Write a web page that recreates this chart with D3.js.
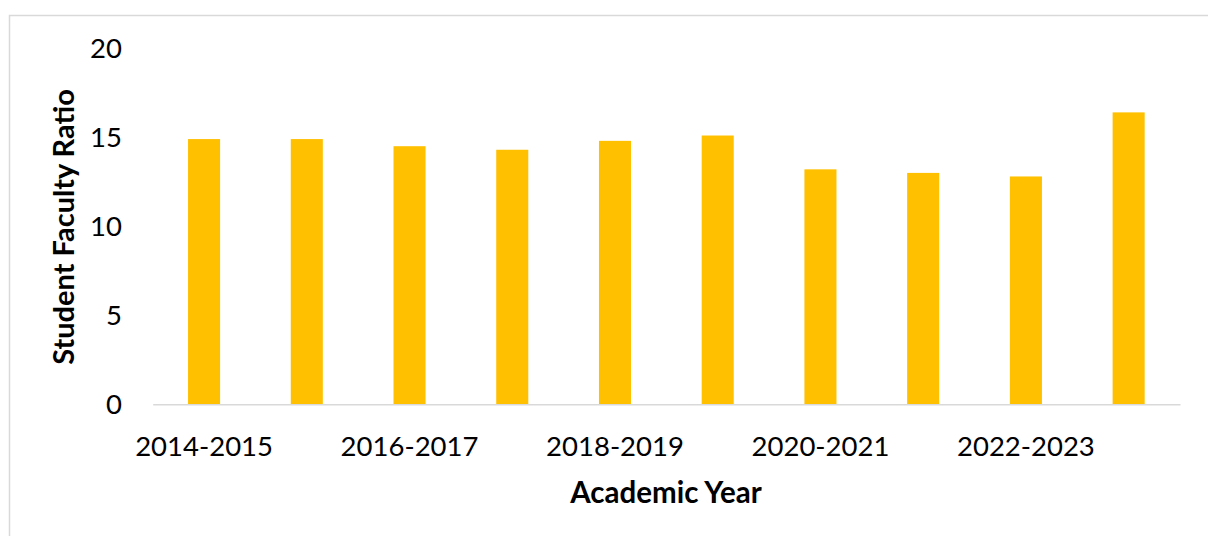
<!DOCTYPE html>
<html>
<head>
<meta charset="utf-8">
<script src="https://cdn.jsdelivr.net/npm/d3@7"></script>
<style>
  html, body { margin: 0; padding: 0; background: #fff; }
  svg { display: block; }
  text { font-family: Lato, "Open Sans", sans-serif; fill: #000; }
</style>
</head>
<body>
<script>
// Student faculty ratio by academic year
const years = ["2014-2015", "2015-2016", "2016-2017", "2017-2018", "2018-2019",
               "2019-2020", "2020-2021", "2021-2022", "2022-2023", "2023-2024"];
const ratios = [14.9, 14.9, 14.5, 14.3, 14.8, 15.1, 13.2, 13.0, 12.8, 16.4];
const yTicks = [0, 5, 10, 15, 20];
const shownYears = ["2014-2015", "2016-2017", "2018-2019", "2020-2021", "2022-2023"];

const W = 1208, H = 536;
const svg = d3.select("body").append("svg").attr("width", W).attr("height", H);

// outer chart frame
svg.append("rect")
  .attr("x", 9.5).attr("y", 15.5)
  .attr("width", W + 20).attr("height", H + 20)
  .attr("fill", "none").attr("stroke", "#d9d9d9").attr("stroke-width", 1.5);

const x = d3.scaleBand()
  .domain(years)
  .range([152.7, 1180])
  .paddingInner(0.688)
  .paddingOuter(0.344);

const y = d3.scaleLinear().domain([0, 20]).range([404.3, 48.3]);

// bars
svg.append("g").selectAll("rect")
  .data(years.map((yr, i) => ({ yr, v: ratios[i] })))
  .join("rect")
  .attr("x", d => x(d.yr))
  .attr("width", x.bandwidth())
  .attr("y", d => y(d.v))
  .attr("height", d => y(0) - y(d.v))
  .attr("fill", "#FFC000");

// category axis
const xAxis = d3.axisBottom(x)
  .tickValues(shownYears)
  .tickSize(0)
  .tickPadding(0);
const gx = svg.append("g").attr("transform", `translate(0,${y(0)})`).call(xAxis);
gx.select(".domain").attr("stroke", "#d9d9d9").attr("stroke-width", 1.5);
gx.selectAll(".tick text")
  .attr("dy", null)
  .attr("y", 51.7)
  .style("font-size", "27.5px")
  .style("font-family", "Lato, sans-serif")
  .attr("fill", "#000");

// value axis (labels only)
const yAxis = d3.axisLeft(y).tickValues(yTicks).tickSize(0).tickPadding(0);
const gy = svg.append("g").attr("transform", "translate(122,0)").call(yAxis);
gy.select(".domain").remove();
gy.selectAll(".tick text")
  .attr("dy", "0.35em")
  .style("font-size", "27.5px")
  .style("font-family", "Lato, sans-serif")
  .attr("fill", "#000");

// axis titles
svg.append("text")
  .attr("x", 666).attr("y", 502.7)
  .attr("text-anchor", "middle")
  .style("font-size", "29.5px").style("font-weight", "bold")
  .text("Academic Year");

svg.append("text")
  .attr("transform", "translate(74,227) rotate(-90)")
  .attr("text-anchor", "middle")
  .style("font-size", "29px").style("font-weight", "bold")
  .text("Student Faculty Ratio");
</script>
</body>
</html>
